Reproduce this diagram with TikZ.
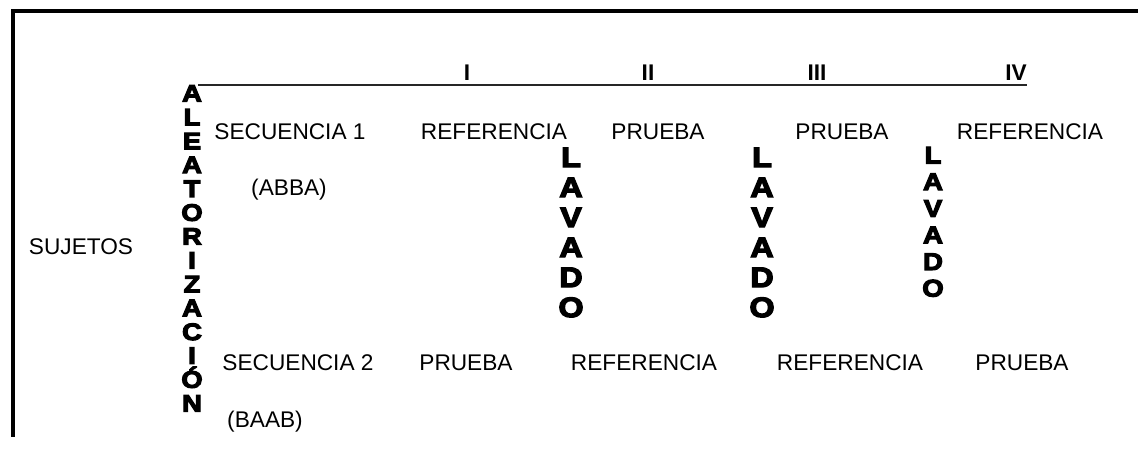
\documentclass[tikz,border=0pt]{standalone}
\usepackage{fontspec}
\setmainfont{Liberation Sans}
\newfontfamily\heavy{Liberation Sans Bold}[FakeBold=5,FakeStretch=1.15]
\begin{document}
\begin{tikzpicture}[x=0.75pt,y=-0.75pt,
  lbl/.style={inner sep=0pt,font=\fontsize{17}{20}\selectfont},
  num/.style={inner sep=0pt,font=\bfseries\fontsize{17}{20}\selectfont},
  vletA/.style={inner sep=0pt,anchor=base,font=\heavy\fontsize{17.8}{18}\selectfont},
  vletB/.style={inner sep=0pt,anchor=base,font=\heavy\fontsize{21}{22}\selectfont},
  vletC/.style={inner sep=0pt,anchor=base,font=\heavy\fontsize{18}{19}\selectfont},
  frame/.style={line width=2.3pt,black},
  axis/.style={line width=1.1pt,black!85}]
\useasboundingbox (0,0) rectangle (1138,465);
% frame
\coordinate (ftr) at (1138,11);
\coordinate (ftl) at (13,11);
\coordinate (fbl) at (13,437);
\draw[frame] (ftr) -- (ftl) -- (fbl);
% axis
\coordinate (ax1) at (198,85);
\coordinate (ax2) at (1027,85);
\draw[axis] (ax1) -- (ax2);
\node[num] (nI)   at (467,73)  {I};
\node[num] (nII)  at (648,73)  {II};
\node[num] (nIII) at (817,73)  {III};
\node[num] (nIV)  at (1016,73) {IV};
% left labels
\node[lbl] (suj) at (81,247) {SUJETOS};
\node[lbl] (s1)  at (290,132) {SECUENCIA 1};
\node[lbl] (abba) at (289,190) {(ABBA)};
\node[lbl] (s2)  at (298,363) {SECUENCIA 2};
\node[lbl] (baab) at (265,422) {(BAAB)};
% row 1
\node[lbl] (r1a) at (494,132) {REFERENCIA};
\node[lbl] (r1b) at (658,132) {PRUEBA};
\node[lbl] (r1c) at (842,132) {PRUEBA};
\node[lbl] (r1d) at (1030,132) {REFERENCIA};
% row 2
\node[lbl] (r2a) at (466,363) {PRUEBA};
\node[lbl] (r2b) at (644,363) {REFERENCIA};
\node[lbl] (r2c) at (850,363) {REFERENCIA};
\node[lbl] (r2d) at (1022,363) {PRUEBA};
% vertical words
\foreach \ch [count=\i from 0] in {A,L,E,A,T,O,R,I,Z,A,C,I,Ó,N}
  \node[vletA] (alea\i) at (192,{101.5+23.85*\i}) {\ch};
\foreach \ch [count=\i from 0] in {L,A,V,A,D,O} {
  \node[vletB] (lavA\i) at (571,{167+30*\i}) {\ch};
  \node[vletB] (lavB\i) at (762,{167+30*\i}) {\ch};
  \node[vletC] (lavC\i) at (933,{163.5+26.6*\i}) {\ch};
}
\end{tikzpicture}
\end{document}
